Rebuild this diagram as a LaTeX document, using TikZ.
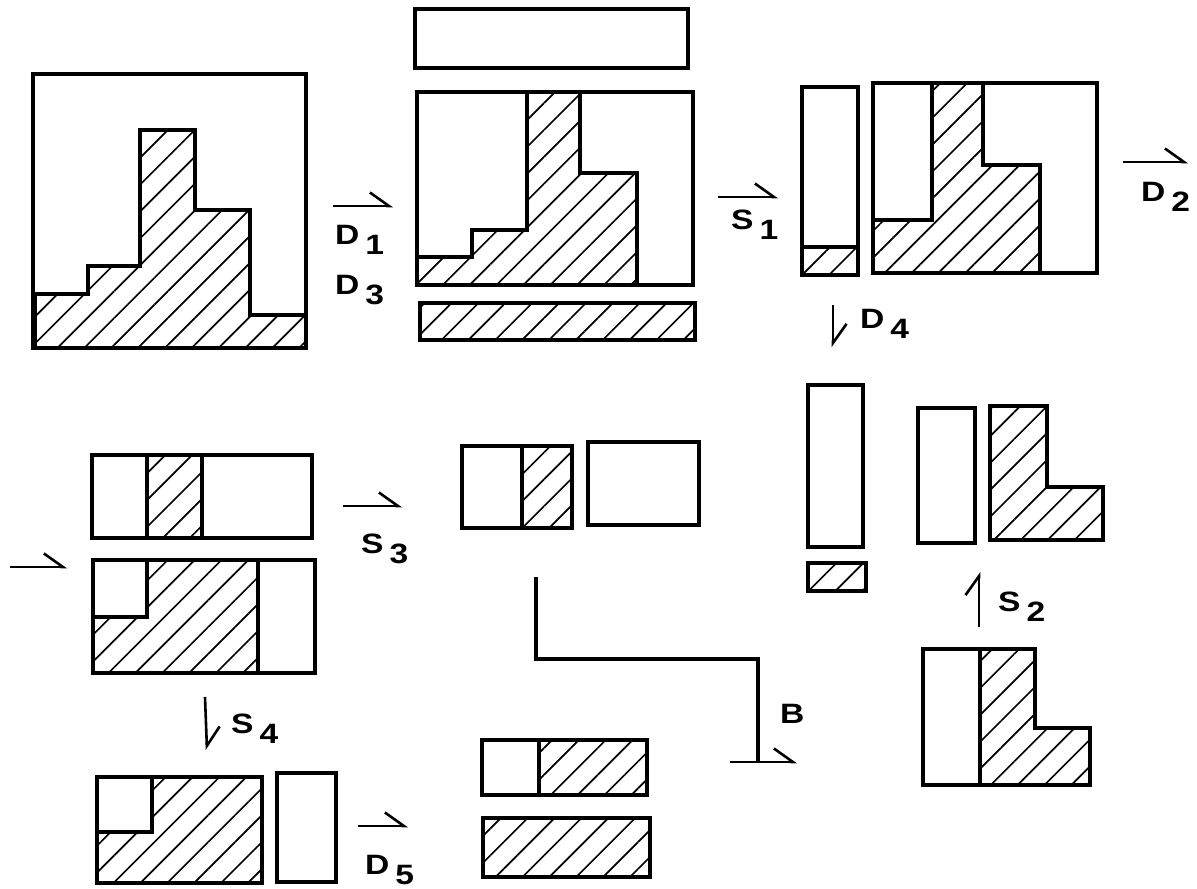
\documentclass[tikz,border=0pt]{standalone}
\usepackage{graphicx}
\usepackage{fontspec}
\setmainfont{Liberation Sans}
\usetikzlibrary{arrows.meta,patterns.meta}

\newcommand{\wide}[1]{\scalebox{1.2}[1]{#1}}
\newcommand{\stage}[2]{\wide{#1}\hspace{6pt}\raisebox{-10pt}{\wide{#2}}}

\begin{document}
\begin{tikzpicture}[x=1pt, y=-1pt,
    every node/.style={font=\fontsize{28}{28}\selectfont\bfseries, inner sep=0pt},
    box/.style={line width=3.1pt},
    hatch/.style={pattern={Lines[angle=45,distance=19pt,line width=1.7pt]}},
    harp/.style={line width=2.6pt, -{Straight Barb[harpoon, length=19pt, width=27pt]}}]
    \useasboundingbox (0,0) rectangle (1197,889);

    % first row
    \draw[box] (33,74) rectangle (306,348);
    \draw[box,hatch] (35,294) -| (88,266) -| (140,130) -| (195,210) -| (250,315) -| (306,348) -- (35,348) -- cycle;

    \draw[box] (415,9) rectangle (688,68);
    \draw[box,hatch] (417,257) -| (472,230) -| (527,92) -- (580,92) |- (637,173) -- (637,285) -- (417,285) -- cycle;
    \draw[box] (417,92) rectangle (693,285);
    \draw[box,hatch] (420,303) rectangle (695,340);

    \draw[box] (802,87) rectangle (858,275);
    \draw[box,hatch] (802,247) rectangle (858,275);
    \draw[box,hatch] (873,220) -| (932,83) -- (983,83) |- (1040,165) -- (1040,273) -- (873,273) -- cycle;
    \draw[box] (873,83) rectangle (1097,273);

    % right column
    \draw[box] (808,385) rectangle (863,547);
    \draw[box,hatch] (808,563) rectangle (866,591);
    \draw[box] (918,408) rectangle (975,543);
    \draw[box,hatch] (990,406) -- (1047,406) |- (1103,487) -- (1103,540) -- (990,540) -- cycle;
    \draw[box,hatch] (980,649) -- (1035,649) |- (1090,728) -- (1090,785) -- (980,785) -- cycle;
    \draw[box] (923,649) rectangle (980,785);

    % middle row
    \draw[box,hatch] (147,455) rectangle (202,538);
    \draw[box] (92,455) rectangle (312,538);
    \draw[box,hatch] (147,560) -- (258,560) -- (258,673) -- (93,673) |- (147,617) -- cycle;
    \draw[box] (93,560) rectangle (315,673);

    \draw[box,hatch] (522,446) rectangle (572,528);
    \draw[box] (462,446) rectangle (572,528);
    \draw[box] (588,442) rectangle (699,525);
    \draw[box] (536,577) |- (758,659) -- (758,762);

    % last row
    \draw[box,hatch] (152,777) -| (262,883) -| (97,832) -- (152,832) -- cycle;
    \draw[box] (97,777) rectangle (262,883);
    \draw[box] (277,773) rectangle (336,882);
    \draw[box,hatch] (539,740) rectangle (647,795);
    \draw[box] (482,740) rectangle (647,795);
    \draw[box,hatch] (483,818) rectangle (650,877);

    % steps
    \draw[harp] (10,567) -- (67,567);
    \draw[harp] (333,206) -- (393,206);
    \draw[harp] (718,197) -- (778,197);
    \draw[harp] (1123,162) -- (1188,162);
    \draw[harp] (833,305) -- (833,347);
    \draw[harp] (979,627) -- (979,572);
    \draw[harp] (343,506) -- (402,506);
    \draw[harp] (205,697) -- (207,750);
    \draw[harp] (358,826) -- (408,826);
    \draw[harp] (730,762) -- (797,762);

    \node[anchor=base west] (d1) at (335,244) {\stage{D}{1}};
    \node[anchor=base west] (d3) at (335,294) {\stage{D}{3}};
    \node[anchor=base west] (s1) at (731,229) {\stage{S}{1}};
    \node[anchor=base west] (d2) at (1141,201) {\stage{D}{2}};
    \node[anchor=base west] (d4) at (860,328) {\stage{D}{4}};
    \node[anchor=base west] (s2) at (998,611) {\stage{S}{2}};
    \node[anchor=base west] (s3) at (361,553) {\stage{S}{3}};
    \node[anchor=base west] (s4) at (231,733) {\stage{S}{4}};
    \node[anchor=base west] (d5) at (365,874) {\stage{D}{5}};
    \node[anchor=base west] (b) at (780,723) {\wide{B}};
\end{tikzpicture}
\end{document}
